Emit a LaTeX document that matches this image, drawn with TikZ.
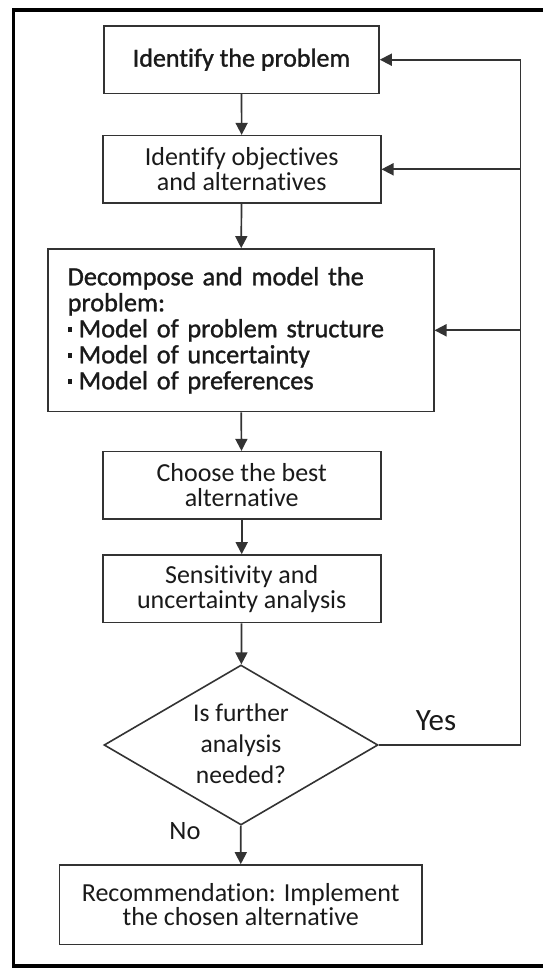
\documentclass[tikz,border=0pt]{standalone}
\usepackage{fontspec}
\setmainfont{Carlito}[Ligatures=NoCommon]
\newfontfamily\heavyfont{Carlito}[FakeBold=1.2,Ligatures=NoCommon]
\usetikzlibrary{arrows.meta,shapes.geometric}
\definecolor{linegray}{HTML}{333333}
\definecolor{textgray}{HTML}{1A1A1A}
\begin{document}
\begin{tikzpicture}[x=1pt,y=-1pt,
  every node/.style={text=textgray},
  box/.style={draw=linegray, line width=1.6pt, fill=white, inner sep=0pt, align=center,
    font=\fontsize{26pt}{25pt}\selectfont},
  conn/.style={draw=linegray, line width=1.7pt},
  arr/.style={conn, -{Triangle[length=12pt,width=12pt]}},
  lbl/.style={inner sep=0pt}
]
\useasboundingbox (0,0) rectangle (543,969);
\fill[white] (0,0) rectangle (543,969);
\draw[black, line width=3.3pt] (560,10) -- (13.3,10) -- (13.3,966) -- (560,966);

\node[box, minimum width=275pt, minimum height=67.3pt,
  font=\heavyfont\fontsize{26pt}{25pt}\selectfont] (b1) at (241.5,59.7) {Identify the problem};
\node[box, minimum width=278pt, minimum height=67.3pt] (b2) at (241.7,169.3)
  {Identify objectives\\and alternatives};
\node[box, text width=346pt, inner xsep=20pt, minimum height=162.7pt, align=left,
  font=\heavyfont\fontsize{26.3pt}{26pt}\selectfont] (b3) at (240.7,330.3)
  {Decompose and model the\\problem:\\
   \rule[0.2em]{0.17em}{0.19em}\hspace{0.25em}Model of problem structure\\
   \rule[0.2em]{0.17em}{0.19em}\hspace{0.25em}Model of uncertainty\\
   \rule[0.2em]{0.17em}{0.19em}\hspace{0.25em}Model of preferences};
\node[box, minimum width=278pt, minimum height=67.3pt] (b4) at (241.7,485.3)
  {Choose the best\\alternative};
\node[box, minimum width=278pt, minimum height=67.7pt] (b5) at (241.7,588.8)
  {Sensitivity and\\uncertainty analysis};
\node[draw=linegray, line width=1.6pt, fill=white, diamond, minimum width=274pt,
  minimum height=160pt, inner sep=0pt] (dec) at (241,745) {};
\node[align=center, inner sep=0pt, font=\fontsize{25.5pt}{31pt}\selectfont] (dect) at (241,744)
  {Is further\\analysis\\needed?};
\node[box, minimum width=362.7pt, minimum height=79.7pt, font=\fontsize{26pt}{24pt}\selectfont]
  (b6) at (240.7,904.8)
  {Recommendation: Implement\\the chosen alternative};

\node[lbl, font=\fontsize{31pt}{31pt}\selectfont] (yes) at (436,721) {Yes};
\node[lbl, font=\fontsize{26.5pt}{27pt}\selectfont] (no) at (185,831) {No};

\coordinate (rx) at (520.5,0);

\draw[arr] (b1) -- (b2);
\draw[arr] (b2) -- (b3);
\draw[arr] (b3) -- (b4);
\draw[arr] (b4) -- (b5);
\draw[arr] (b5) -- (dec);
\draw[arr] (dec) -- (b6);

\draw[arr] (dec.east) -- (dec.east -| rx) -- (b1.east -| rx) -- (b1.east);
\draw[arr] (b2.east -| rx) -- (b2.east);
\draw[arr] (b3.east -| rx) -- (b3.east);
\end{tikzpicture}
\end{document}
